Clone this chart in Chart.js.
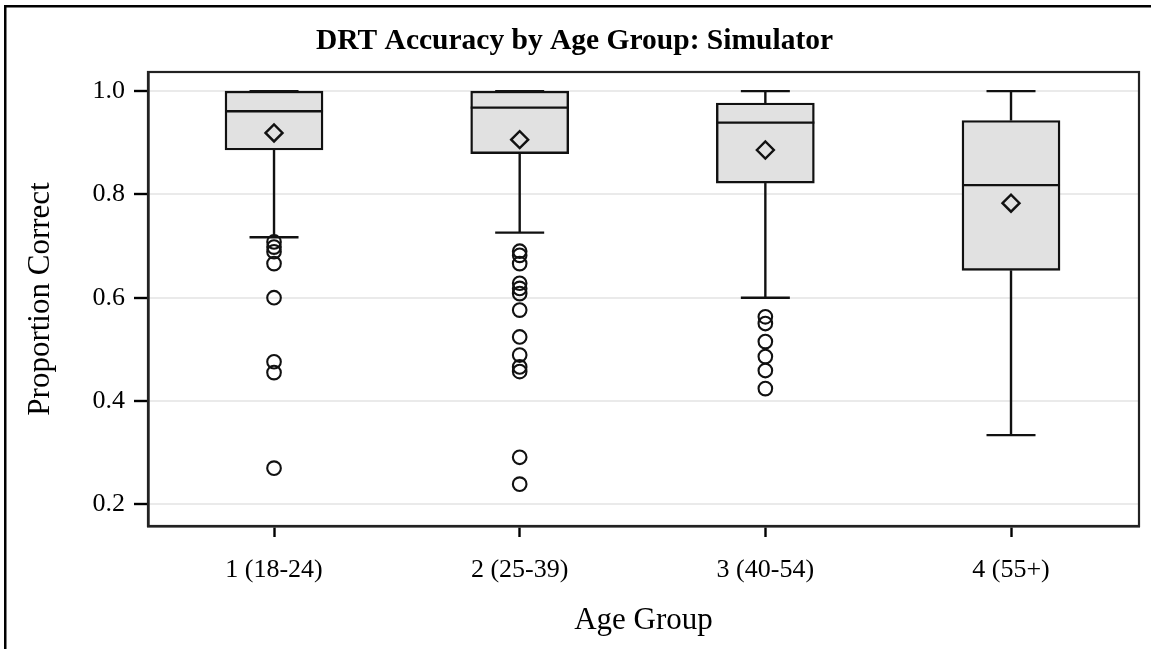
<!DOCTYPE html>
<html>
<head>
<meta charset="utf-8">
<title>DRT Accuracy by Age Group: Simulator</title>
<script src="https://cdn.jsdelivr.net/npm/chart.js@4.4.1/dist/chart.umd.min.js"></script>
<style>
  html, body { margin: 0; padding: 0; background: #fff; }
  #wrap { width: 1151px; height: 649px; }
</style>
</head>
<body>
<div id="wrap"><canvas id="chart" width="1151" height="649"></canvas></div>
<script>
// values
const categories = ['1 (18-24)', '2 (25-39)', '3 (40-54)', '4 (55+)'];
const whiskerLow = [0.717, 0.726, 0.600, 0.334];
const q1 = [0.886, 0.879, 0.822, 0.653];
const median = [0.961, 0.968, 0.939, 0.818];
const q3 = [1.0, 1.0, 0.977, 0.943];
const whiskerHigh = [1.0, 1.0, 1.0, 1.0];
const means = [0.919, 0.906, 0.886, 0.783];
const outliers = [
    [0.708, 0.698, 0.689, 0.666, 0.600, 0.476, 0.455, 0.270],
    [0.690, 0.682, 0.666, 0.628, 0.618, 0.608, 0.576, 0.524, 0.489, 0.466, 0.457, 0.291, 0.239],
    [0.563, 0.550, 0.515, 0.486, 0.459, 0.424],
    []
];
const yTicks = [0.2, 0.4, 0.6, 0.8, 1.0];

const FONT = "'Liberation Serif', 'Times New Roman', serif";
const INK = '#111';

// whiskers + median lines, drawn right after the boxes
const whiskerPlugin = {
    id: 'whiskers',
    afterDatasetDraw(chart, args) {
        if (args.index !== 0) return;
        const { ctx, scales: { x, y } } = chart;
        const boxes = chart.getDatasetMeta(0).data;
        ctx.save();
        ctx.strokeStyle = INK;
        ctx.lineWidth = 2.4;
        categories.forEach((c, i) => {
            const cx = x.getPixelForValue(i + 1);
            const half = boxes[i].width / 2;
            const cap = half / 2;
            const seg = (x1, y1, x2, y2) => {
                ctx.beginPath();
                ctx.moveTo(x1, y1);
                ctx.lineTo(x2, y2);
                ctx.stroke();
            };
            // median
            seg(cx - half, y.getPixelForValue(median[i]), cx + half, y.getPixelForValue(median[i]));
            // upper whisker
            seg(cx, y.getPixelForValue(q3[i]), cx, y.getPixelForValue(whiskerHigh[i]));
            seg(cx - cap, y.getPixelForValue(whiskerHigh[i]), cx + cap, y.getPixelForValue(whiskerHigh[i]));
            // lower whisker
            seg(cx, y.getPixelForValue(q1[i]), cx, y.getPixelForValue(whiskerLow[i]));
            seg(cx - cap, y.getPixelForValue(whiskerLow[i]), cx + cap, y.getPixelForValue(whiskerLow[i]));
        });
        ctx.restore();
    }
};

// plot frame (top/right) and the outer border of the graph
const framePlugin = {
    id: 'frame',
    afterDraw(chart) {
        const { ctx, chartArea: a } = chart;
        ctx.save();
        ctx.strokeStyle = '#222';
        ctx.lineWidth = 2.2;
        ctx.strokeRect(a.left, a.top, a.right - a.left, a.bottom - a.top);
        ctx.fillStyle = '#000';
        ctx.fillRect(4, 5, chart.width, 2.5);
        ctx.fillRect(4, 5, 2.5, chart.height);
        ctx.restore();
    }
};

const outlierPoints = [];
outliers.forEach((list, i) => list.forEach(v => outlierPoints.push({ x: i + 1, y: v })));

new Chart(document.getElementById('chart'), {
    type: 'scatter',
    data: {
        datasets: [
            {
                type: 'bar',
                label: 'IQR',
                data: categories.map((c, i) => ({ x: i + 1, y: [q1[i], q3[i]] })),
                backgroundColor: '#e1e1e1',
                borderColor: INK,
                borderWidth: 2.4,
                borderSkipped: false,
                barThickness: 98,
                order: 3
            },
            {
                label: 'Outliers',
                data: outlierPoints,
                pointStyle: 'circle',
                pointRadius: 6.8,
                pointBorderWidth: 2.1,
                pointBorderColor: INK,
                pointBackgroundColor: 'rgba(0,0,0,0)',
                order: 2
            },
            {
                label: 'Mean',
                data: means.map((v, i) => ({ x: i + 1, y: v })),
                pointStyle: 'rectRot',
                pointRadius: 8.5,
                pointBorderWidth: 2.4,
                pointBorderColor: INK,
                pointBackgroundColor: 'rgba(0,0,0,0)',
                order: 1
            }
        ]
    },
    options: {
        responsive: false,
        animation: false,
        layout: { padding: { left: 10, right: 12, top: 0, bottom: 0 } },
        plugins: {
            legend: { display: false },
            tooltip: { enabled: false },
            title: {
                display: true,
                text: 'DRT Accuracy by Age Group: Simulator',
                color: '#000',
                font: { family: FONT, size: 29.5, weight: 'bold' },
                padding: { top: 24, bottom: 12.6 }
            }
        },
        scales: {
            x: {
                type: 'linear',
                min: 0.487,
                max: 4.521,
                offset: false,
                afterBuildTicks: (scale) => {
                    scale.ticks = categories.map((c, i) => ({ value: i + 1 }));
                },
                afterFit: (scale) => { scale.height = 123; },
                ticks: {
                    color: '#000',
                    font: { family: FONT, size: 26 },
                    padding: 18,
                    maxRotation: 0,
                    callback: (v) => categories[v - 1]
                },
                grid: {
                    offset: false,
                    drawOnChartArea: false,
                    drawTicks: true,
                    tickLength: 11,
                    tickColor: '#000',
                    tickWidth: 2.4
                },
                border: { display: true, color: '#000', width: 2.6 },
                title: {
                    display: true,
                    text: 'Age Group',
                    color: '#000',
                    font: { family: FONT, size: 31 },
                    padding: { top: 0, bottom: 10 }
                }
            },
            y: {
                type: 'linear',
                min: 0.158,
                max: 1.037,
                afterBuildTicks: (scale) => {
                    scale.ticks = yTicks.map(v => ({ value: v }));
                },
                afterFit: (scale) => { scale.width = 138; },
                ticks: {
                    color: '#000',
                    font: { family: FONT, size: 26 },
                    padding: 9,
                    callback: (v) => v.toFixed(1)
                },
                grid: {
                    color: '#eaeaea',
                    lineWidth: 2,
                    drawTicks: true,
                    tickLength: 14,
                    tickColor: '#000',
                    tickWidth: 2.4
                },
                border: { display: true, color: '#000', width: 2.6 },
                title: {
                    display: true,
                    text: 'Proportion Correct',
                    color: '#000',
                    font: { family: FONT, size: 31 },
                    padding: { top: 12, bottom: 0 }
                }
            }
        }
    },
    plugins: [whiskerPlugin, framePlugin]
});
</script>
</body>
</html>
